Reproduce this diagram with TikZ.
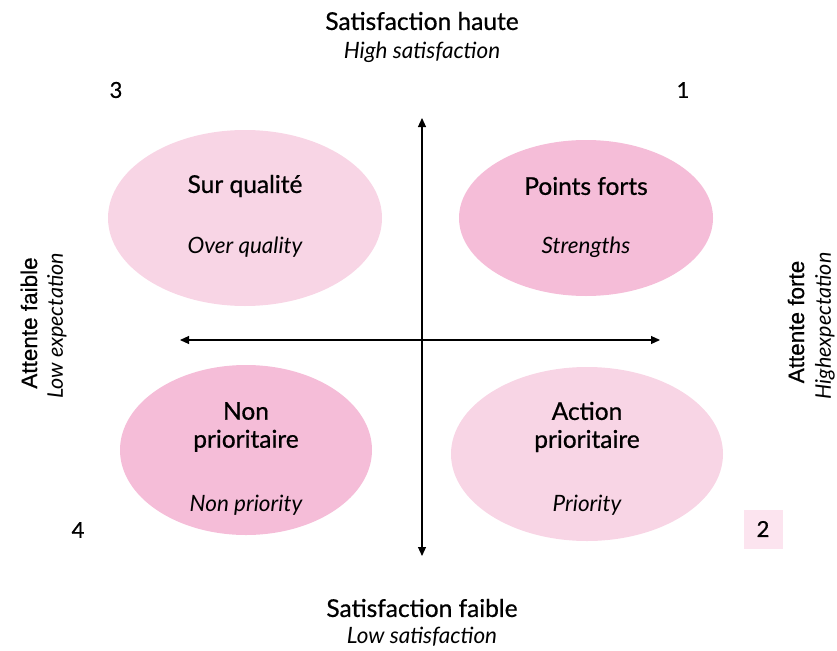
\documentclass[tikz,border=0pt]{standalone}
\usepackage{fontspec}
\setmainfont{Lato}
\newfontfamily\medfont{Lato}[FakeBold=0.7]
\newfontfamily\sidefont{Liberation Sans}[FakeBold=0.5]
\usetikzlibrary{arrows.meta}
\definecolor{pinkA}{HTML}{F8D5E5}
\definecolor{pinkB}{HTML}{F5BDD8}
\definecolor{pinkC}{HTML}{FCE4EF}
\tikzset{
  ttl/.style={font=\medfont\fontsize{24.5}{28}\selectfont,align=center},
  sub/.style={font=\fontsize{22.5}{24}\selectfont\itshape,align=center},
  numl/.style={font=\medfont\fontsize{22}{24}\selectfont},
  sidettl/.style={font=\sidefont\fontsize{22.5}{24}\selectfont,rotate=90},
  sidesub/.style={font=\fontsize{21.5}{23}\selectfont\itshape,rotate=90},
  axis/.style={line width=1.1pt,{Triangle[length=9pt,width=8pt]}-{Triangle[length=9pt,width=8pt]}}
}
\begin{document}
\begin{tikzpicture}[x=1pt,y=-1pt]
\useasboundingbox (0,0) rectangle (837,650);
% ellipses
\fill[pinkA] (245,218) ellipse [x radius=137,y radius=88];
\fill[pinkB] (586,218) ellipse [x radius=127,y radius=78];
\fill[pinkB] (246,450) ellipse [x radius=126,y radius=85];
\fill[pinkA] (587,454) ellipse [x radius=136,y radius=87];
% axes
\coordinate (vt) at (422,118);
\coordinate (vb) at (422,556);
\coordinate (hl) at (180,340);
\coordinate (hr) at (660,340);
\draw[axis] (vt) -- (vb);
\draw[axis] (hl) -- (hr);
% titles
\node[ttl] (t1) at (422,21) {Satisfaction haute};
\node[sub] (t2) at (422,52) {High satisfaction};
\node[ttl] (b1) at (422,608) {Satisfaction faible};
\node[sub] (b2) at (422,637) {Low satisfaction};
\node[sidettl] (l1) at (29,323) {Attente faible};
\node[sidesub] (l2) at (57,326) {Low expectation};
\node[sidettl] (r1) at (796,322) {Attente forte};
\node[sidesub] (r2) at (825,326) {Highexpectation};
% numbers
\node[numl] (n3) at (116,90) {3};
\node[numl] (n1) at (683,90) {1};
\node[numl] (n4) at (78,530) {4};
\node[numl,fill=pinkC,minimum width=39pt,minimum height=39pt,inner sep=0pt] (n2) at (763,529) {2};
% ellipse labels
\node[ttl] (q1) at (245,186) {Sur qualité};
\node[sub] (q1s) at (245,247) {Over quality};
\node[ttl] (q2) at (586,186) {Points forts};
\node[sub] (q2s) at (586,247) {Strengths};
\node[ttl] (q3) at (246,427) {Non\\prioritaire};
\node[sub] (q3s) at (246,505) {Non priority};
\node[ttl] (q4) at (587,427) {Action\\prioritaire};
\node[sub] (q4s) at (587,505) {Priority};
\end{tikzpicture}
\end{document}
